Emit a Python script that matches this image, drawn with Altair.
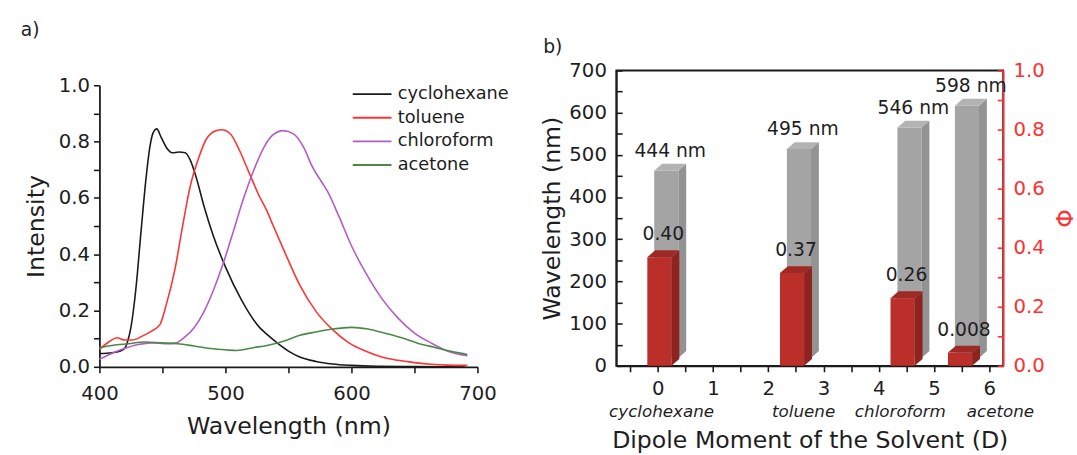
import altair as alt
import pandas as pd

FONT = "DejaVu Sans"
TXT = "#1e1e1e"
RED_AX = "#ff3030"

# ---------------- panel a: emission spectra ----------------
solvents = ["cyclohexane", "toluene", "chloroform", "acetone"]
line_colors = ["#1a1a1a", "#ff3333", "#b45cc6", "#4a8a45"]

wl_cyclohexane = [400, 410, 416, 420, 422, 425, 429, 433, 437, 440, 442.5, 445.5, 449, 453, 458, 463, 468,
                  472, 477, 483, 490, 500, 513, 527, 533, 541, 550, 559, 572, 585, 600, 620, 650, 690]
i_cyclohexane = [0.047, 0.05, 0.055, 0.065, 0.085, 0.14, 0.28, 0.48, 0.67, 0.78, 0.83, 0.845, 0.815, 0.78,
                 0.76, 0.763, 0.76, 0.735, 0.67, 0.57, 0.47, 0.355, 0.235, 0.14, 0.115, 0.085, 0.056, 0.035,
                 0.019, 0.01, 0.005, 0.002, 0.001, 0.0]

wl_toluene = [400, 408, 414, 420, 426, 434, 441, 448, 453, 460, 466, 472, 479, 485, 493, 497, 504, 511, 519,
              527, 533, 538, 546, 559, 572, 585, 598, 611, 624, 637, 650, 663, 676, 692]
i_toluene = [0.062, 0.09, 0.103, 0.095, 0.095, 0.109, 0.126, 0.15, 0.22, 0.348, 0.5, 0.64, 0.745, 0.81, 0.839,
             0.842, 0.827, 0.77, 0.687, 0.605, 0.553, 0.5, 0.418, 0.29, 0.196, 0.132, 0.085, 0.056, 0.035,
             0.023, 0.015, 0.009, 0.006, 0.005]

wl_chloroform = [400, 408, 418, 431, 441, 452, 461, 467, 475, 483, 491, 498.5, 506, 514, 522, 530, 537, 546,
                 554, 562, 569, 577, 581, 590, 600, 611, 624, 637, 650, 663, 676, 692]
i_chloroform = [0.027, 0.044, 0.062, 0.079, 0.085, 0.082, 0.085, 0.103, 0.138, 0.196, 0.278, 0.371, 0.477,
                0.593, 0.693, 0.775, 0.821, 0.839, 0.827, 0.78, 0.71, 0.652, 0.623, 0.535, 0.43, 0.336, 0.243,
                0.173, 0.12, 0.085, 0.056, 0.039]

wl_acetone = [400, 410, 423, 436, 449, 462, 475, 488, 501, 509, 522, 533, 546, 559, 572, 585, 600, 613, 626,
              640, 652, 665, 678, 692]
i_acetone = [0.068, 0.076, 0.082, 0.088, 0.085, 0.082, 0.074, 0.065, 0.06, 0.058, 0.068, 0.076, 0.091, 0.112,
             0.124, 0.134, 0.14, 0.134, 0.12, 0.103, 0.085, 0.07, 0.056, 0.044]

# ---------------- panel b: 3D bars ----------------
bar_pos = [0.03, 2.43, 4.43, 5.47]          # x position of each solvent's bar pair
peak_wl = [444, 495, 546, 598]              # grey bars, left axis
phi_height = [0.368, 0.314, 0.229, 0.045]   # red bars as drawn, right axis
phi_text = ["0.40", "0.37", "0.26", "0.008"]
name_pos = [0.07, 2.64, 4.39, 6.2]

# ---- build panel a table ----
series = [(solvents[0], wl_cyclohexane, i_cyclohexane), (solvents[1], wl_toluene, i_toluene),
          (solvents[2], wl_chloroform, i_chloroform), (solvents[3], wl_acetone, i_acetone)]
rows = []
for name, wls, vals in series:
    for w, v in zip(wls, vals):
        rows.append({"solvent": name, "wl": w, "I": v})
spec_df = pd.DataFrame(rows)

WA, HA, TOP_A = 384, 301, 15   # panel a: value 1.0 sits TOP_A px below the panel top
spectra = alt.Chart(spec_df).mark_line(strokeWidth=1.6, interpolate="monotone").encode(
    x=alt.X("wl:Q", scale=alt.Scale(domain=[400, 700], nice=False, zero=False),
            axis=alt.Axis(title="Wavelength (nm)", values=[400, 450, 500, 550, 600, 650, 700], format=".0f",
                          labelExpr="datum.value % 100 === 0 ? datum.label : ''", tickSize=6,
                          labelPadding=11, titlePadding=12, labelFlush=False)),
    y=alt.Y("I:Q", scale=alt.Scale(domain=[0, 1], nice=False, range=[HA, TOP_A]),
            axis=alt.Axis(title="Intensity", values=[i / 10 for i in range(11)], format=".1f",
                          labelExpr="abs(datum.value * 5 - round(datum.value * 5)) < 0.001 ? datum.label : ''",
                          tickSize=6, labelPadding=4, titlePadding=10, labelFlush=False)),
    color=alt.Color("solvent:N", scale=alt.Scale(domain=solvents, range=line_colors),
                    legend=alt.Legend(title=None, orient="none", legendX=256, legendY=13, symbolType="stroke",
                                      symbolSize=1550, symbolStrokeWidth=2, labelFontSize=18, labelFont=FONT,
                                      labelColor=TXT, rowPadding=2, clipHeight=22, labelOffset=5)),
    order=alt.Order("wl:Q"),
).properties(
    width=WA, height=HA,
    title=alt.TitleParams("a)", anchor="start", frame="bounds", fontSize=19, font=FONT, fontWeight="normal",
                          color=TXT, offset=31, dx=-4),
    view=alt.ViewBackground(stroke=None),
)

# ---- build panel b tables ----
WB, HB = 393, 300
XPX = WB / 7.0                 # pixels per x unit
W = 24.5 / XPX                 # bar width
DX = 8 / XPX                   # depth in x
DY_NM = 7 * 700 / HB           # depth in y (left scale)
DY_PHI = 7 / HB                # depth in y (right scale)
GX = 7 / XPX                   # grey bars sit behind, shifted right ...
GY = 8 * 700 / HB              # ... and up


def faces(positions, tops, base, dx, dy):
    front, side, top = [], [], []
    for k, (p, t) in enumerate(zip(positions, tops)):
        L, R = p - W / 2, p + W / 2
        front.append({"id": k, "x": L, "x2": R, "y": base, "y2": t})
        side.append({"id": k, "x": R, "y": base, "y2": t})
        side.append({"id": k, "x": R + dx, "y": base + dy, "y2": t + dy})
        top.append({"id": k, "y": t, "x": L, "x2": R})
        top.append({"id": k, "y": t + dy, "x": L + dx, "x2": R + dx})
    return pd.DataFrame(front), pd.DataFrame(side), pd.DataFrame(top)


g_front, g_side, g_top = faces([p + GX for p in bar_pos], [w + GY for w in peak_wl], GY, DX, DY_NM)
r_front, r_side, r_top = faces(bar_pos, phi_height, 0.0, DX, DY_PHI)

g_lab = pd.DataFrame({"x": [p + GX for p in bar_pos], "y": [w + GY for w in peak_wl],
                      "t": [f"{w} nm" for w in peak_wl]})
r_lab = pd.DataFrame({"x": bar_pos, "y": phi_height, "t": phi_text})
n_lab = pd.DataFrame({"x": name_pos, "t": solvents})

xscale = alt.Scale(domain=[-0.75, 6.25], nice=False, zero=False)
x_axis = alt.Axis(title="Dipole Moment of the Solvent (D)", values=[v / 2 for v in range(-1, 13)],
                  format=".0f", labelExpr="datum.value % 1 === 0 ? datum.label : ''", tickSize=6,
                  labelPadding=7, titlePadding=31, labelFlush=False)
gscale = alt.Scale(domain=[0, 700], nice=False)
g_axis = alt.Axis(title="Wavelength (nm)", values=list(range(0, 701, 50)), format=".0f",
                  labelExpr="datum.value % 100 === 0 ? datum.label : ''", tickSize={"expr": "-6"},
                  labelPadding=16, titlePadding=4)
rscale = alt.Scale(domain=[0, 1], nice=False)
r_axis = alt.Axis(title="Φ", orient="right", values=[i / 10 for i in range(11)], format=".1f",
                  labelExpr="abs(datum.value * 5 - round(datum.value * 5)) < 0.001 ? datum.label : ''",
                  tickSize={"expr": "-6"}, labelPadding=16, titlePadding=6, domainColor=RED_AX,
                  tickColor=RED_AX, labelColor=RED_AX, titleColor=RED_AX)


def X(f="x"):
    return alt.X(f"{f}:Q", scale=xscale, axis=x_axis, title="Dipole Moment of the Solvent (D)")


def YG():
    return alt.Y("y:Q", scale=gscale, axis=g_axis, title="Wavelength (nm)")


def YR():
    return alt.Y("y:Q", scale=rscale, axis=r_axis, title="Φ")


GREY_F, GREY_S, GREY_T = "#a4a4a4", "#939393", "#b3b3b3"
RED_F, RED_S, RED_T = "#bb2f2a", "#8e231f", "#9f2924"

grey = alt.layer(
    alt.Chart(g_front).mark_rect(color=GREY_F).encode(x=X(), x2="x2:Q", y=YG(), y2="y2:Q"),
    alt.Chart(g_side).mark_area(color=GREY_S, orient="vertical").encode(x=X(), y=YG(), y2="y2:Q", detail="id:N"),
    alt.Chart(g_top).mark_area(color=GREY_T, orient="horizontal").encode(y=YG(), x=X(), x2="x2:Q", detail="id:N"),
    alt.Chart(g_lab).mark_text(font=FONT, fontSize=19, color=TXT, dx=4, dy=-20, baseline="middle").encode(
        x=X(), y=YG(), text="t:N"),
    alt.Chart(n_lab).mark_text(font=FONT, fontSize=17, fontStyle="italic", color=TXT, baseline="middle").encode(
        x=X(), y=alt.value(HB + 47), text="t:N"),
)
red = alt.layer(
    alt.Chart(r_front).mark_rect(color=RED_F).encode(x=X(), x2="x2:Q", y=YR(), y2="y2:Q"),
    alt.Chart(r_side).mark_area(color=RED_S, orient="vertical").encode(x=X(), y=YR(), y2="y2:Q", detail="id:N"),
    alt.Chart(r_top).mark_area(color=RED_T, orient="horizontal").encode(y=YR(), x=X(), x2="x2:Q", detail="id:N"),
    alt.Chart(r_lab).mark_text(font=FONT, fontSize=19, color=TXT, dx=4, dy=-23, baseline="middle").encode(
        x=X(), y=YR(), text="t:N"),
)
panel_b = alt.layer(grey, red).resolve_scale(y="independent").properties(
    width=WB, height=HB,
    title=alt.TitleParams("b)", anchor="start", frame="bounds", fontSize=19, font=FONT, fontWeight="normal",
                          color=TXT, offset=4, dx=2),
    view=alt.ViewBackground(stroke="#1a1a1a", strokeWidth=1.8),
)

chart = alt.hconcat(spectra, panel_b, spacing=43).properties(
    padding={"left": 21, "top": 18, "right": 2, "bottom": 0}
).configure_axis(
    labelFont=FONT, titleFont=FONT, labelFontSize=20, titleFontSize=24, labelColor=TXT, titleColor=TXT,
    titleFontWeight="normal", domainColor="#1a1a1a", tickColor="#1a1a1a", domainWidth=1.8, tickWidth=1.6,
    grid=False,
).configure_view(stroke=None)

chart.save("out.html", embed_options={"renderer": "svg", "actions": False})
